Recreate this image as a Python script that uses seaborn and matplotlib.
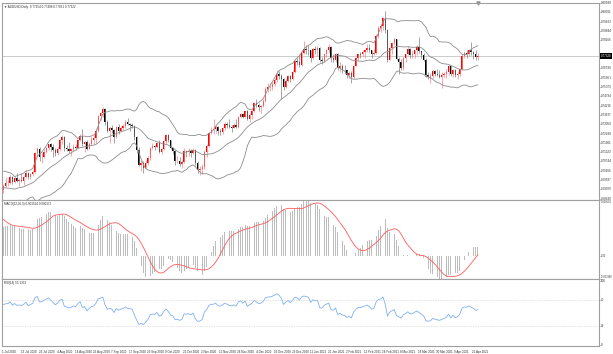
import numpy as np
import pandas as pd
import matplotlib
matplotlib.use("Agg")
import matplotlib.pyplot as plt
import matplotlib.transforms as mtrans
import seaborn as sns

sns.set_style("white")
plt.rcParams['font.family'] = ['Liberation Sans', 'DejaVu Sans']

# closes before the first visible bar (the indicators need some history)
pre_close = [0.6505, 0.6555, 0.6515,
             0.6410, 0.6420, 0.6445, 0.6385, 0.6500, 0.6530, 0.6470, 0.6450, 0.6455, 0.6425, 0.6410,
             0.6540, 0.6555, 0.6585, 0.6565, 0.6530, 0.6555, 0.6640, 0.6620, 0.6625, 0.6670,
             0.6815, 0.6925, 0.6970, 0.6945, 0.6985, 0.6990, 0.6995, 0.7025, 0.6860, 0.6865, 0.6915,
             0.6920, 0.6875, 0.6855, 0.6850, 0.6900, 0.6915, 0.6860, 0.6865, 0.6865, 0.6905, 0.6900]

# daily OHLC, 1 Jul 2020 .. 23 Apr 2021
open_ = [0.6900, 0.6925, 0.6940, 0.6943, 0.6978, 0.6945, 0.6973, 0.6955, 0.6960, 0.6955, 0.6975, 0.7005, 0.6975, 0.6995, 0.7010, 0.7125, 0.7150, 0.7100, 0.7105, 0.7135, 0.7160, 0.7185, 0.7165,
         0.7145, 0.7125, 0.7150, 0.7205, 0.7225, 0.7155, 0.7150, 0.7140, 0.7150, 0.7165, 0.7160, 0.7205, 0.7235, 0.7180, 0.7195, 0.7150, 0.7185, 0.7210, 0.7220, 0.7265, 0.7360,
         0.7375, 0.7400, 0.7320, 0.7265, 0.7280, 0.7270, 0.7225, 0.7290, 0.7265, 0.7285, 0.7295, 0.7320, 0.7305, 0.7300, 0.7295, 0.7225, 0.7145, 0.7050, 0.7065, 0.7035, 0.7065, 0.7095,
         0.7160, 0.7170, 0.7165, 0.7190, 0.7135, 0.7150, 0.7200, 0.7240, 0.7205, 0.7155, 0.7140, 0.7075, 0.7080, 0.7060, 0.7070, 0.7140, 0.7135, 0.7140, 0.7125, 0.7145, 0.7065, 0.7020,
         0.7025, 0.7040, 0.7135, 0.7170, 0.7250, 0.7270, 0.7275, 0.7290, 0.7265, 0.7260, 0.7285, 0.7310, 0.7300, 0.7290, 0.7285, 0.7300, 0.7290, 0.7350, 0.7370, 0.7350, 0.7385,
         0.7340, 0.7365, 0.7385, 0.7440, 0.7425, 0.7410, 0.7420, 0.7450, 0.7525, 0.7535, 0.7540, 0.7555, 0.7580, 0.7615, 0.7605, 0.7585, 0.7535, 0.7575, 0.7605, 0.7585, 0.7630, 0.7700,
         0.7695, 0.7675, 0.7750, 0.7775, 0.7770, 0.7765, 0.7720, 0.7775, 0.7765, 0.7780, 0.7705, 0.7700, 0.7745, 0.7765, 0.7785, 0.7715, 0.7705, 0.7740, 0.7655, 0.7670,
         0.7645, 0.7640, 0.7610, 0.7625, 0.7600, 0.7670, 0.7715, 0.7740, 0.7740, 0.7755, 0.7765, 0.7780, 0.7765, 0.7740, 0.7750, 0.7855, 0.7905, 0.7915, 0.7965, 0.7890,
         0.7705, 0.7780, 0.7810, 0.7835, 0.7710, 0.7690, 0.7655, 0.7715, 0.7740, 0.7775, 0.7735, 0.7740, 0.7765, 0.7785, 0.7760, 0.7735, 0.7705, 0.7610, 0.7600, 0.7605, 0.7635, 0.7620, 0.7610,
         0.7600, 0.7610, 0.7620, 0.7630, 0.7665, 0.7615, 0.7645, 0.7610, 0.7620, 0.7650, 0.7730, 0.7750, 0.7745, 0.7770, 0.7755, 0.7745, 0.7725]
high = [0.6935, 0.6976, 0.6958, 0.6990, 0.6982, 0.6982, 0.7000, 0.6970, 0.7000, 0.6985, 0.7020, 0.7010, 0.7005, 0.7020, 0.7135, 0.7165, 0.7165, 0.7125, 0.7150, 0.7165, 0.7185, 0.7190, 0.7185,
        0.7155, 0.7165, 0.7215, 0.7240, 0.7230, 0.7175, 0.7195, 0.7160, 0.7185, 0.7180, 0.7210, 0.7245, 0.7275, 0.7200, 0.7210, 0.7195, 0.7230, 0.7240, 0.7285, 0.7365, 0.7380,
        0.7414, 0.7405, 0.7335, 0.7295, 0.7300, 0.7275, 0.7295, 0.7310, 0.7295, 0.7305, 0.7335, 0.7345, 0.7315, 0.7315, 0.7300, 0.7235, 0.7165, 0.7085, 0.7075, 0.7085, 0.7110, 0.7165,
        0.7190, 0.7175, 0.7195, 0.7210, 0.7160, 0.7210, 0.7245, 0.7245, 0.7210, 0.7165, 0.7145, 0.7110, 0.7100, 0.7085, 0.7155, 0.7145, 0.7155, 0.7150, 0.7160, 0.7150, 0.7075, 0.7045,
        0.7060, 0.7145, 0.7180, 0.7255, 0.7290, 0.7340, 0.7300, 0.7295, 0.7275, 0.7290, 0.7320, 0.7320, 0.7340, 0.7300, 0.7315, 0.7340, 0.7360, 0.7375, 0.7375, 0.7390, 0.7395,
        0.7375, 0.7395, 0.7445, 0.7465, 0.7440, 0.7425, 0.7460, 0.7535, 0.7560, 0.7560, 0.7570, 0.7595, 0.7640, 0.7635, 0.7615, 0.7590, 0.7585, 0.7610, 0.7610, 0.7640, 0.7705, 0.7715,
        0.7745, 0.7755, 0.7820, 0.7800, 0.7800, 0.7770, 0.7780, 0.7790, 0.7790, 0.7785, 0.7725, 0.7750, 0.7775, 0.7805, 0.7790, 0.7740, 0.7750, 0.7750, 0.7695, 0.7680,
        0.7675, 0.7645, 0.7635, 0.7635, 0.7675, 0.7720, 0.7745, 0.7755, 0.7765, 0.7765, 0.7805, 0.7805, 0.7770, 0.7775, 0.7865, 0.7915, 0.7930, 0.7975, 0.8007, 0.7895,
        0.7785, 0.7815, 0.7840, 0.7835, 0.7725, 0.7710, 0.7725, 0.7745, 0.7790, 0.7780, 0.7760, 0.7770, 0.7800, 0.7849, 0.7760, 0.7750, 0.7715, 0.7630, 0.7625, 0.7650, 0.7645, 0.7650, 0.7640,
        0.7630, 0.7630, 0.7650, 0.7675, 0.7675, 0.7650, 0.7650, 0.7630, 0.7655, 0.7740, 0.7760, 0.7770, 0.7775, 0.7817, 0.7760, 0.7765, 0.7750]
low = [0.6878, 0.6915, 0.6925, 0.6935, 0.6935, 0.6940, 0.6945, 0.6920, 0.6945, 0.6930, 0.6970, 0.6965, 0.6965, 0.6985, 0.7005, 0.7100, 0.7080, 0.7065, 0.7095, 0.7125, 0.7145, 0.7140, 0.7105,
       0.7110, 0.7115, 0.7140, 0.7180, 0.7140, 0.7140, 0.7130, 0.7110, 0.7140, 0.7145, 0.7155, 0.7200, 0.7170, 0.7135, 0.7145, 0.7150, 0.7175, 0.7180, 0.7190, 0.7255, 0.7335,
       0.7350, 0.7300, 0.7255, 0.7190, 0.7250, 0.7190, 0.7220, 0.7245, 0.7255, 0.7270, 0.7285, 0.7300, 0.7265, 0.7280, 0.7205, 0.7125, 0.7045, 0.7015, 0.7005, 0.7025, 0.7055, 0.7085,
       0.7150, 0.7145, 0.7155, 0.7125, 0.7120, 0.7145, 0.7185, 0.7195, 0.7150, 0.7120, 0.7055, 0.7065, 0.7045, 0.7035, 0.7065, 0.7100, 0.7110, 0.7105, 0.7120, 0.7055, 0.7000, 0.6990,
       0.6995, 0.7030, 0.7100, 0.7165, 0.7245, 0.7245, 0.7250, 0.7240, 0.7240, 0.7245, 0.7270, 0.7285, 0.7285, 0.7255, 0.7280, 0.7280, 0.7285, 0.7345, 0.7345, 0.7345, 0.7335,
       0.7320, 0.7340, 0.7380, 0.7410, 0.7390, 0.7375, 0.7410, 0.7445, 0.7505, 0.7515, 0.7520, 0.7545, 0.7570, 0.7585, 0.7460, 0.7520, 0.7530, 0.7570, 0.7570, 0.7580, 0.7625, 0.7675,
       0.7660, 0.7665, 0.7740, 0.7745, 0.7735, 0.7695, 0.7710, 0.7740, 0.7730, 0.7690, 0.7680, 0.7690, 0.7725, 0.7750, 0.7690, 0.7690, 0.7690, 0.7640, 0.7630, 0.7625,
       0.7620, 0.7590, 0.7595, 0.7565, 0.7595, 0.7665, 0.7705, 0.7715, 0.7730, 0.7720, 0.7755, 0.7755, 0.7715, 0.7735, 0.7745, 0.7840, 0.7880, 0.7890, 0.7875, 0.7690,
       0.7705, 0.7740, 0.7800, 0.7705, 0.7620, 0.7640, 0.7645, 0.7695, 0.7735, 0.7715, 0.7720, 0.7720, 0.7735, 0.7750, 0.7720, 0.7700, 0.7600, 0.7585, 0.7560, 0.7595, 0.7605, 0.7605, 0.7590,
       0.7532, 0.7600, 0.7595, 0.7610, 0.7605, 0.7600, 0.7600, 0.7585, 0.7605, 0.7640, 0.7720, 0.7720, 0.7730, 0.7735, 0.7710, 0.7705, 0.7705]
close = [0.6925, 0.6940, 0.6943, 0.6978, 0.6945, 0.6973, 0.6955, 0.6960, 0.6955, 0.6975, 0.7005, 0.6975, 0.6995, 0.7010, 0.7125, 0.7150, 0.7100, 0.7105, 0.7135, 0.7160, 0.7185, 0.7165, 0.7145,
         0.7125, 0.7150, 0.7205, 0.7225, 0.7155, 0.7150, 0.7140, 0.7150, 0.7165, 0.7160, 0.7205, 0.7235, 0.7180, 0.7195, 0.7150, 0.7185, 0.7210, 0.7220, 0.7265, 0.7360, 0.7375,
         0.7400, 0.7320, 0.7265, 0.7280, 0.7270, 0.7225, 0.7290, 0.7265, 0.7285, 0.7295, 0.7320, 0.7305, 0.7300, 0.7295, 0.7225, 0.7145, 0.7050, 0.7065, 0.7035, 0.7065, 0.7095, 0.7160,
         0.7170, 0.7165, 0.7190, 0.7135, 0.7150, 0.7200, 0.7240, 0.7205, 0.7155, 0.7140, 0.7075, 0.7080, 0.7060, 0.7070, 0.7140, 0.7135, 0.7140, 0.7125, 0.7145, 0.7065, 0.7020, 0.7025,
         0.7040, 0.7135, 0.7170, 0.7250, 0.7270, 0.7275, 0.7290, 0.7265, 0.7260, 0.7285, 0.7310, 0.7300, 0.7290, 0.7285, 0.7300, 0.7290, 0.7350, 0.7370, 0.7350, 0.7385, 0.7340,
         0.7365, 0.7385, 0.7440, 0.7425, 0.7410, 0.7420, 0.7450, 0.7525, 0.7535, 0.7540, 0.7555, 0.7580, 0.7615, 0.7605, 0.7585, 0.7535, 0.7575, 0.7605, 0.7585, 0.7630, 0.7700, 0.7695,
         0.7675, 0.7750, 0.7775, 0.7770, 0.7765, 0.7720, 0.7775, 0.7765, 0.7780, 0.7705, 0.7700, 0.7745, 0.7765, 0.7785, 0.7715, 0.7705, 0.7740, 0.7655, 0.7670, 0.7645,
         0.7640, 0.7610, 0.7625, 0.7600, 0.7670, 0.7715, 0.7740, 0.7738, 0.7755, 0.7765, 0.7780, 0.7765, 0.7740, 0.7750, 0.7855, 0.7905, 0.7915, 0.7965, 0.7890, 0.7705,
         0.7780, 0.7810, 0.7835, 0.7710, 0.7690, 0.7655, 0.7715, 0.7740, 0.7775, 0.7735, 0.7740, 0.7765, 0.7785, 0.7760, 0.7735, 0.7705, 0.7610, 0.7600, 0.7605, 0.7635, 0.7620, 0.7610, 0.7600,
         0.7610, 0.7620, 0.7630, 0.7665, 0.7615, 0.7645, 0.7610, 0.7620, 0.7650, 0.7730, 0.7750, 0.7745, 0.7770, 0.7755, 0.7745, 0.7725, 0.7732]

# right-hand price scale labels
price_ticks = [0.68430, 0.69009, 0.69587, 0.70166, 0.70744, 0.71323, 0.71901, 0.72480, 0.73059, 0.73637, 0.74216,
               0.74794, 0.75373, 0.75951, 0.76530, 0.77109, 0.77687, 0.78266, 0.78844, 0.79423, 0.80001, 0.80580]
rsi_ticks = [0, 30, 70, 100]
chart_title = "AUDUSD,Daily  0.77254 0.77498 0.77051 0.77322"

GRID = '#a0a0a0'
TXT = '#303030'
FS = 2.2


def style_panel(ax):
    for sp in ax.spines.values():
        sp.set_color(GRID)
        sp.set_linewidth(0.8)
    ax.yaxis.tick_right()
    ax.tick_params(axis='y', length=1.2, width=0.4, color=GRID, labelright=False)
    ax.tick_params(axis='x', length=0, labelbottom=False)
    ax.set_xlim(-0.6, 263.6)
    ax.set_xlabel('')
    ax.set_ylabel('')


def right_labels(ax, values, texts, vas=None, size=FS):
    tr = mtrans.blended_transform_factory(ax.transAxes, ax.transData)
    ax.set_yticks(values)
    for i, (v, t) in enumerate(zip(values, texts)):
        va = vas[i] if vas else 'center'
        ax.text(1.003, v, t, transform=tr, fontsize=size, color=TXT, ha='left', va=va, clip_on=False)


def main():
    # dates: weekdays, no Christmas / New Year bars
    dates = pd.bdate_range('2020-07-01', '2021-04-23')
    dates = dates[~dates.isin(pd.to_datetime(['2020-12-25', '2021-01-01']))]

    df = pd.DataFrame({'date': dates, 'open': open_, 'high': high, 'low': low, 'close': close})
    df['x'] = np.arange(len(df))
    n_pre = len(pre_close)

    # indicators on the whole close history
    s = pd.Series(pre_close + close)
    mid = s.rolling(20).mean()
    sd = s.rolling(20).std(ddof=0)
    ema12 = s.ewm(span=12, adjust=False).mean()
    ema26 = s.ewm(span=26, adjust=False).mean()
    macd = ema12 - ema26
    signal = macd.rolling(9).mean()
    d = s.diff()
    gain = d.clip(lower=0).ewm(alpha=1 / 14, adjust=False).mean()
    loss = (-d.clip(upper=0)).ewm(alpha=1 / 14, adjust=False).mean()
    rsi = 100 - 100 / (1 + gain / loss)

    df['bb_mid'] = mid.iloc[n_pre:].values
    df['bb_up'] = (mid + 2 * sd).iloc[n_pre:].values
    df['bb_lo'] = (mid - 2 * sd).iloc[n_pre:].values
    df['macd'] = macd.iloc[n_pre:].values
    df['signal'] = signal.iloc[n_pre:].values
    df['rsi'] = rsi.iloc[n_pre:].values

    fig = plt.figure(figsize=(6.13, 3.54), dpi=100)
    W, H = 613.0, 354.0
    left, right = 2 / W, 599 / W
    ax_p = fig.add_axes([left, 1 - 200 / H, right - left, 197 / H])
    ax_m = fig.add_axes([left, 1 - 279 / H, right - left, 79 / H])
    ax_r = fig.add_axes([left, 1 - 346 / H, right - left, 67 / H])

    # --- price panel ---
    up = df['close'] >= df['open']
    body_lo = df[['open', 'close']].min(axis=1)
    body_h = (df['close'] - df['open']).abs().clip(lower=0.00008)
    ax_p.vlines(df['x'], df['low'], df['high'], colors=np.where(up, '#ff8080', '#808080'), lw=0.5)
    ax_p.bar(df['x'], body_h, bottom=body_lo, width=0.62,
             color=np.where(up, '#ff0000', '#000000'), linewidth=0)
    for col in ['bb_up', 'bb_mid', 'bb_lo']:
        sns.lineplot(x=df['x'], y=df[col], ax=ax_p, color='#8c8c8c', lw=0.6)
    last = df['close'].iloc[-1]
    ax_p.axhline(last, color='#c4c4c4', lw=0.6, zorder=0)
    style_panel(ax_p)
    ax_p.set_ylim(0.6835, 0.8059)
    # the last-price box hides the scale label next to it
    shown = [t for t in price_ticks if abs(t - last) > 0.004]
    right_labels(ax_p, shown, [f'{t:.5f}' for t in shown])
    tr = mtrans.blended_transform_factory(ax_p.transAxes, ax_p.transData)
    ax_p.text(1.003, last, f'{last:.5f}', transform=tr, fontsize=FS, color='white',
              ha='left', va='center', clip_on=False,
              bbox=dict(boxstyle='square,pad=0.3', fc='black', ec='none'))
    # chart-shift marker at the top edge
    ax_p.plot([df['x'].iloc[-1]], [1.0], marker='v', ms=2.2, color='#909090',
              transform=mtrans.blended_transform_factory(ax_p.transData, ax_p.transAxes), clip_on=False)
    ax_p.text(0.004, 0.988, '\u25bc ' + chart_title, transform=ax_p.transAxes,
              fontsize=FS, color=TXT, va='top', ha='left')

    # --- MACD panel ---
    ax_m.bar(df['x'], df['macd'], width=0.35, color='#bdbdbd', linewidth=0)
    sns.lineplot(x=df['x'], y=df['signal'], ax=ax_m, color='#ff5a5a', lw=0.6)
    lo = min(df['macd'].min(), df['signal'].min())
    hi = max(df['macd'].max(), df['signal'].max())
    style_panel(ax_m)
    ax_m.set_ylim(lo, hi)
    right_labels(ax_m, [hi, 0, lo], [f'{hi:.6f}', '0.00', f'{lo:.6f}'],
                 ['top', 'center', 'bottom'], size=1.85)
    ax_m.text(0.004, 0.975, f"MACD(12,26,9) {df['macd'].iloc[-1]:.6f} {df['signal'].iloc[-1]:.6f}",
              transform=ax_m.transAxes, fontsize=FS, color=TXT, va='top', ha='left')

    # --- RSI panel ---
    sns.lineplot(x=df['x'], y=df['rsi'], ax=ax_r, color='#7fb0f0', lw=0.6)
    for lv in [30, 70]:
        ax_r.axhline(lv, color='#c8c8c8', lw=0.5, ls=(0, (1, 1.5)))
    style_panel(ax_r)
    ax_r.set_ylim(-1.5, 103)
    right_labels(ax_r, rsi_ticks, [str(t) for t in rsi_ticks])
    ax_r.text(0.004, 0.975, f"RSI(14) {df['rsi'].iloc[-1]:.4f}", transform=ax_r.transAxes,
              fontsize=FS, color=TXT, va='top', ha='left')

    # date labels every 8 bars
    pos = df['x'].values[::8]
    labs = [f"{d.day} {d.strftime('%b %Y')}" for d in df['date'].iloc[::8]]
    ax_r.set_xticks(pos - 0.4)
    ax_r.set_xticklabels(labs, ha='left')
    ax_r.tick_params(axis='x', length=2.5, width=0.4, color=GRID, labelbottom=True,
                     labelsize=FS, pad=0.3, labelcolor=TXT)

    fig.savefig('out.png', dpi=100, facecolor='white')
    plt.close(fig)


if __name__ == "__main__":
    main()
